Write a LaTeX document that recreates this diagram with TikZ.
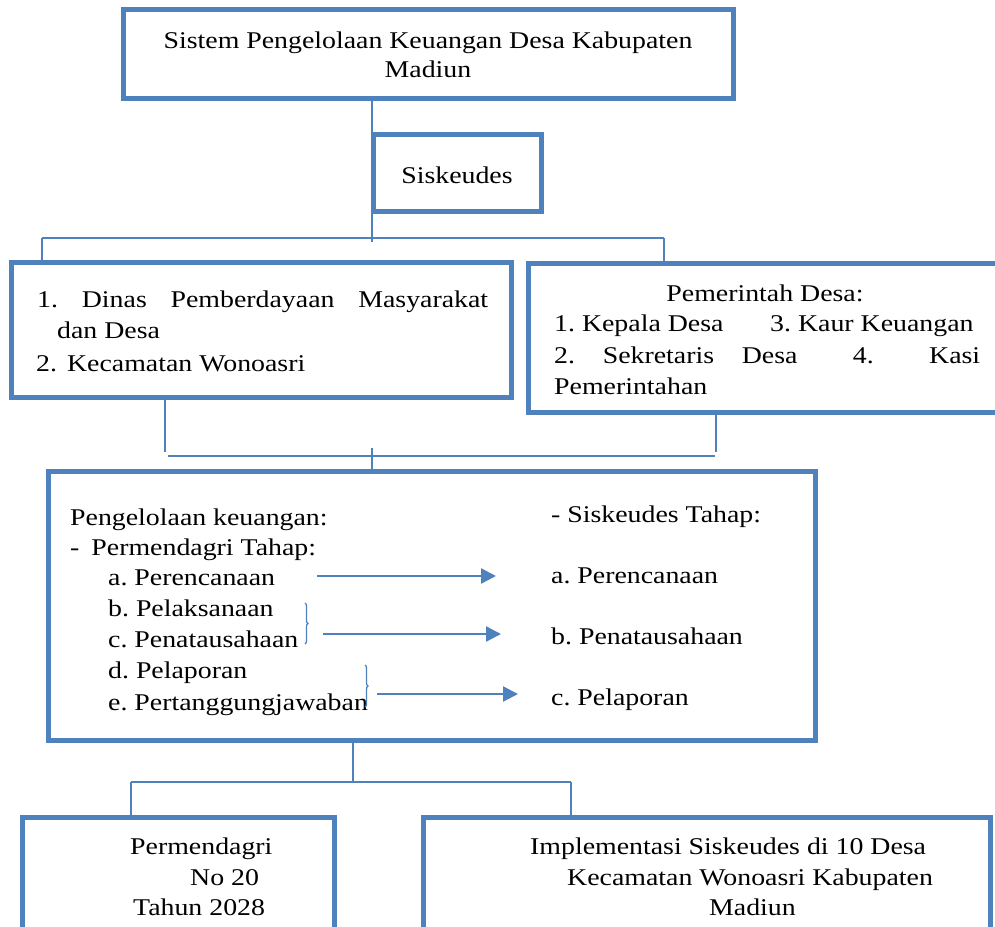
\documentclass[tikz,border=0pt]{standalone}
\usepackage{fontspec}
\setmainfont{Liberation Serif}[FakeStretch=1.16]
\usetikzlibrary{arrows.meta, positioning, calc, decorations.pathreplacing}
\definecolor{wordblue}{RGB}{79,129,189}
\frenchspacing
\tikzset{%
	box/.style={draw=wordblue, line width=5pt, rectangle, inner sep=0pt},
	conn/.style={draw=wordblue, line width=1.3pt},
	flow/.style={draw=wordblue, line width=2.3pt, -{Triangle[length=15pt, width=15pt]}},
	txt/.style={anchor=base west, inner sep=0pt, font=\fontsize{24}{30}\selectfont},
	ctxt/.style={txt, anchor=base},
	brc/.style={draw=wordblue, line width=1.3pt, decorate, decoration={brace, amplitude=3pt}}
}
\begin{document}
\begin{tikzpicture}[x=1pt, y=-1pt]
	\useasboundingbox (0,0) rectangle (995,926);

	\node[box, minimum width=610pt, minimum height=89pt] (sistem) at (428,53.5) {};
	\node[box, minimum width=168pt, minimum height=77pt] (siskeudes) at (457,173) {};
	\node[box, minimum width=500pt, minimum height=135pt] (dinas) at (261,329.5) {};
	\node[box, minimum width=482pt, minimum height=149pt] (pemdes) at (769,337.5) {};
	\node[box, minimum width=767pt, minimum height=269pt] (kelola) at (431.5,605.5) {};
	\node[box, minimum width=312pt, minimum height=123pt] (permen) at (178,878.5) {};
	\node[box, minimum width=567pt, minimum height=123pt] (implem) at (706.5,878.5) {};

	\node[ctxt] (sistem1) at (428,48) {Sistem Pengelolaan Keuangan Desa Kabupaten};
	\node[ctxt] (sistem2) at (428,77) {Madiun};
	\node[ctxt] (siskeudes1) at (457,183) {Siskeudes};

	\node[txt] (dinas1) at (37,307) {\makebox[451pt][s]{1. Dinas Pemberdayaan Masyarakat}};
	\node[txt] (dinas2) at (57,338) {dan Desa};
	\node[txt] (dinas3) at (36,371) {2.\hspace{10pt}Kecamatan Wonoasri};

	\node[ctxt] (pemdes0) at (765,301) {Pemerintah Desa:};
	\node[txt] (pemdes1) at (554,331) {\makebox[216pt][l]{1. Kepala Desa}3. Kaur Keuangan};
	\node[txt] (pemdes2) at (554,363) {\makebox[426pt][s]{2.\hfill Sekretaris\hfill Desa\hfill\hfill 4.\hfill\hfill Kasi}};
	\node[txt] (pemdes3) at (554,394) {Pemerintahan};

	\node[txt] (kelola1) at (70,525) {Pengelolaan keuangan:};
	\node[txt] (kelola2) at (70,555) {-\hspace{12pt}Permendagri Tahap:};
	\node[txt] (pa) at (108,585) {a. Perencanaan};
	\node[txt] (pb) at (108,616) {b. Pelaksanaan};
	\node[txt] (pc) at (108,647) {c. Penatausahaan};
	\node[txt] (pd) at (108,678) {d. Pelaporan};
	\node[txt] (pe) at (108,710) {e. Pertanggungjawaban};
	\node[txt] (sk0) at (551,522) {- Siskeudes Tahap:};
	\node[txt] (sa) at (551,583) {a. Perencanaan};
	\node[txt] (sb) at (551,644) {b. Penatausahaan};
	\node[txt] (sc) at (551,705) {c. Pelaporan};

	\node[txt] (permen1) at (130,854) {Permendagri};
	\node[txt] (permen2) at (190,885) {No 20};
	\node[txt] (permen3) at (133,915) {Tahun 2028};
	\node[txt] (implem1) at (530,854) {Implementasi Siskeudes di 10 Desa};
	\node[txt] (implem2) at (567,885) {Kecamatan Wonoasri Kabupaten};
	\node[txt] (implem3) at (709,915) {Madiun};

	\coordinate (split1) at (372,242);
	\coordinate (fork1l) at (42,238);
	\coordinate (fork1r) at (664,238);
	\coordinate (join1l) at (165,452);
	\coordinate (join1r) at (716,452);
	\coordinate (bar1l) at (168,456);
	\coordinate (bar1r) at (715,456);
	\coordinate (split2) at (372,448);
	\coordinate (join2) at (353,782);
	\coordinate (fork2l) at (131,782);
	\coordinate (fork2r) at (571,782);

	\draw[conn] (sistem.south -| split1) -- (split1 |- siskeudes.north);
	\draw[conn] (split1 |- siskeudes.south) -- (split1);
	\draw[conn] (fork1l) -- (fork1r);
	\draw[conn] (fork1l) -- (fork1l |- dinas.north);
	\draw[conn] (fork1r) -- (fork1r |- pemdes.north);
	\draw[conn] (dinas.south -| join1l) -- (join1l);
	\draw[conn] (pemdes.south -| join1r) -- (join1r);
	\draw[conn] (bar1l) -- (bar1r);
	\draw[conn] (split2) -- (split2 |- kelola.north);
	\draw[conn] (kelola.south -| join2) -- (join2);
	\draw[conn] (fork2l) -- (fork2r);
	\draw[conn] (fork2l) -- (fork2l |- permen.north);
	\draw[conn] (fork2r) -- (fork2r |- implem.north);

	\coordinate (arr1s) at (317,576);
	\coordinate (arr1e) at (496,576);
	\coordinate (arr2s) at (323,634);
	\coordinate (arr2e) at (501,634);
	\coordinate (arr3s) at (377,694);
	\coordinate (arr3e) at (518,694);
	\draw[flow] (arr1s) -- (arr1e);
	\draw[flow] (arr2s) -- (arr2e);
	\draw[flow] (arr3s) -- (arr3e);

	\coordinate (brc1t) at (305,603);
	\coordinate (brc1b) at (305,644);
	\coordinate (brc2t) at (365,665);
	\coordinate (brc2b) at (365,707);
	\draw[brc] (brc1t) -- (brc1b);
	\draw[brc] (brc2t) -- (brc2b);
\end{tikzpicture}
\end{document}
